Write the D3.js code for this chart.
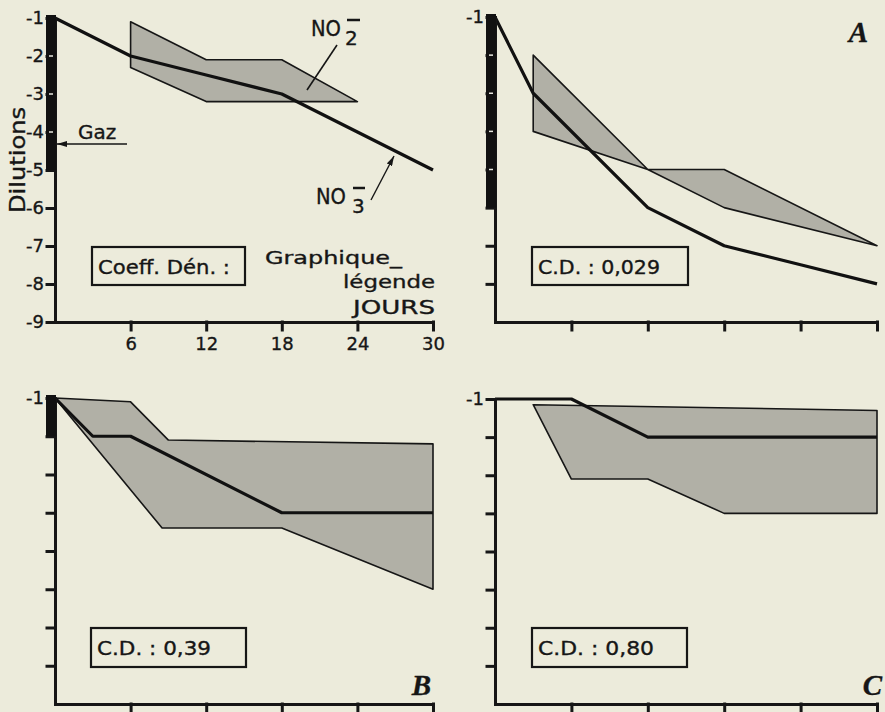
<!DOCTYPE html>
<html>
<head>
<meta charset="utf-8">
<script src="https://cdn.jsdelivr.net/npm/d3@7"></script>
<style>
  body { margin: 0; background: #ecebdb; }
  svg text { font-family: "DejaVu Sans", sans-serif; fill: #161616; stroke: #161616; stroke-width: 0.35; }
</style>
</head>
<body>
<div id="chart"></div>
<script>
// days and dilution ticks
var dayTicks = [6, 12, 18, 24, 30];
var dilutionTicks = [-1, -2, -3, -4, -5, -6, -7, -8];
var legendTicks = [-1, -2, -3, -4, -5, -6, -7, -8, -9];

// legend panel (Graphique-légende)
var legendNO3 = [[0, -1], [6, -2], [12, -2.5], [18, -3], [24, -4], [30, -5]];
var legendNO2Upper = [[6, -1.1], [12, -2.1], [18, -2.1], [24, -3.2]];
var legendNO2Lower = [[6, -2.3], [12, -3.2], [24, -3.2]];
var legendGaz = -5;

// panel A
var aNO3 = [[0, -1], [3, -3], [12, -6], [18, -7], [24, -7.5], [30, -8]];
var aNO2Upper = [[3, -2], [12, -5], [18, -5], [30, -7]];
var aNO2Lower = [[3, -4], [12, -5], [18, -6], [30, -7]];
var aGaz = -6;

// panel B
var bNO3 = [[0, -1], [3, -2], [6, -2], [18, -4], [30, -4]];
var bNO2Upper = [[0, -1], [6, -1.1], [9, -2.1], [30, -2.2]];
var bNO2Lower = [[0, -1], [8.5, -4.4], [18, -4.4], [30, -6]];
var bGaz = -2;

// panel C
var cNO3 = [[0, -1], [6, -1], [12, -2], [30, -2]];
var cNO2Upper = [[3, -1.15], [30, -1.3]];
var cNO2Lower = [[3, -1.15], [6, -3.1], [12, -3.1], [18, -4], [30, -4]];
var cGaz = null;

var panels = [
  { left: 55, right: 433, top: 18, bottom: 322, no3: legendNO3, up: legendNO2Upper, low: legendNO2Lower,
    gaz: legendGaz, ticks: legendTicks, allLabels: true, dayLabels: true,
    box: [92, 247, 153, 38], boxText: "Coeff. Dén. :", boxLen: 132, letter: null },
  { left: 495, right: 877, top: 17, bottom: 322, no3: aNO3, up: aNO2Upper, low: aNO2Lower,
    gaz: aGaz, ticks: dilutionTicks, allLabels: false, dayLabels: false,
    box: [532, 247, 156, 38], boxText: "C.D. : 0,029", boxLen: 122, letter: "A", lx: 868, ly: 42 },
  { left: 55, right: 433, top: 398, bottom: 704, no3: bNO3, up: bNO2Upper, low: bNO2Lower,
    gaz: bGaz, ticks: dilutionTicks, allLabels: false, dayLabels: false,
    box: [91, 628, 155, 39], boxText: "C.D. : 0,39", boxLen: 114, letter: "B", lx: 431, ly: 695 },
  { left: 495, right: 877, top: 399, bottom: 704, no3: cNO3, up: cNO2Upper, low: cNO2Lower,
    gaz: cGaz, ticks: dilutionTicks, allLabels: false, dayLabels: false,
    box: [532, 628, 155, 39], boxText: "C.D. : 0,80", boxLen: 116, letter: "C", lx: 882, ly: 695 }
];

var svg = d3.select("#chart")
  .append("svg")
  .attr("width", 885)
  .attr("height", 712);

var defs = svg.append("defs");

defs.append("marker")
  .attr("id", "arrow")
  .attr("viewBox", "0 0 10 6")
  .attr("refX", 10)
  .attr("refY", 3)
  .attr("markerWidth", 10)
  .attr("markerHeight", 6)
  .attr("markerUnits", "userSpaceOnUse")
  .attr("orient", "auto")
  .append("path")
  .attr("d", "M0,0L10,3L0,6z")
  .attr("fill", "#161616");

panels.forEach(function(p) {
  var x = d3.scaleLinear().domain([0, 30]).range([p.left, p.right]);
  var y = d3.scaleLinear().domain([-1, -9]).range([p.top, p.bottom]);
  var g = svg.append("g");

  // NO2 band
  var band = p.up.concat(p.low.slice().reverse());
  g.append("path")
    .attr("d", d3.line().x(d => x(d[0])).y(d => y(d[1])).curve(d3.curveLinearClosed)(band))
    .attr("fill", "#b1b0a6")
    .attr("stroke", "#161616")
    .attr("stroke-width", 1.6)
    .attr("stroke-linejoin", "round");

  // NO3 line
  g.append("path")
    .attr("d", d3.line().x(d => x(d[0])).y(d => y(d[1]))(p.no3))
    .attr("fill", "none")
    .attr("stroke", "#111")
    .attr("stroke-width", 3.2)
    .attr("stroke-linejoin", "round");

  // axes
  var leftAxis = d3.axisLeft(y)
    .tickValues(p.ticks)
    .tickSize(8)
    .tickSizeOuter(0)
    .tickPadding(3)
    .tickFormat(d => (p.allLabels || d === -1) ? String(d) : "");

  var bottomAxis = d3.axisBottom(x)
    .tickValues(dayTicks)
    .tickSize(8)
    .tickSizeOuter(0)
    .tickPadding(7)
    .tickFormat(d => p.dayLabels ? d : "");

  var ya = g.append("g")
    .attr("transform", `translate(${p.left},0)`)
    .call(leftAxis);

  var xa = g.append("g")
    .attr("transform", `translate(0,${p.bottom})`)
    .call(bottomAxis);

  [ya, xa].forEach(function(a) {
    a.selectAll("path, line").attr("stroke", "#161616").attr("stroke-width", 3).attr("stroke-linecap", "square");
    a.selectAll("text")
      .attr("font-family", "DejaVu Sans, sans-serif")
      .attr("font-size", 18)
      .attr("fill", "#161616");
  });

  // gas bar with white notches
  if (p.gaz !== null) {
    g.append("rect")
      .attr("x", p.left - 9)
      .attr("y", p.top - 3)
      .attr("width", 10)
      .attr("height", y(p.gaz) - p.top + 3)
      .attr("fill", "#111");
    g.selectAll(".notch")
      .data(p.ticks.filter(d => d < -1 && d > p.gaz))
      .enter()
      .append("line")
      .attr("x1", p.left - 6)
      .attr("x2", p.left - 2)
      .attr("y1", d => y(d))
      .attr("y2", d => y(d))
      .attr("stroke", "#e8e8e0")
      .attr("stroke-width", 1.5);
  }

  // coefficient box
  g.append("rect")
    .attr("x", p.box[0])
    .attr("y", p.box[1])
    .attr("width", p.box[2])
    .attr("height", p.box[3])
    .attr("fill", "none")
    .attr("stroke", "#161616")
    .attr("stroke-width", 2.2);

  g.append("text")
    .attr("x", p.box[0] + 6)
    .attr("y", p.box[1] + 27)
    .attr("font-size", 19)
    .attr("textLength", p.boxLen)
    .attr("lengthAdjust", "spacingAndGlyphs")
    .text(p.boxText);

  if (p.letter) {
    g.append("text")
      .attr("x", p.lx)
      .attr("y", p.ly)
      .attr("text-anchor", "end")
      .style("font-family", "Liberation Serif, serif")
      .attr("font-weight", "bold")
      .attr("font-style", "italic")
      .attr("font-size", 29)
      .text(p.letter);
  }
});

// legend-panel annotations
svg.append("text")
  .attr("transform", "translate(25,160) rotate(-90)")
  .attr("text-anchor", "middle")
  .attr("font-size", 21)
  .attr("textLength", 106)
  .attr("lengthAdjust", "spacingAndGlyphs")
  .text("Dilutions");

svg.append("text").attr("x", 78).attr("y", 139).attr("font-size", 20).text("Gaz");
svg.append("line")
  .attr("x1", 127).attr("y1", 144).attr("x2", 57).attr("y2", 144)
  .attr("stroke", "#161616").attr("stroke-width", 1.6)
  .attr("marker-end", "url(#arrow)");

// NO2- label
svg.append("text").attr("x", 311).attr("y", 36).attr("font-size", 22)
  .attr("textLength", 30).attr("lengthAdjust", "spacingAndGlyphs").text("NO");
svg.append("text").attr("x", 345).attr("y", 45).attr("font-size", 20).text("2");
svg.append("line").attr("x1", 347).attr("x2", 360).attr("y1", 20).attr("y2", 20)
  .attr("stroke", "#161616").attr("stroke-width", 2.5);
svg.append("line")
  .attr("x1", 337).attr("y1", 45).attr("x2", 307).attr("y2", 90)
  .attr("stroke", "#161616").attr("stroke-width", 1.6);

// NO3- label
svg.append("text").attr("x", 316).attr("y", 204).attr("font-size", 22)
  .attr("textLength", 30).attr("lengthAdjust", "spacingAndGlyphs").text("NO");
svg.append("text").attr("x", 352).attr("y", 213).attr("font-size", 20).text("3");
svg.append("line").attr("x1", 353).attr("x2", 365).attr("y1", 188).attr("y2", 188)
  .attr("stroke", "#161616").attr("stroke-width", 2.5);
svg.append("line")
  .attr("x1", 371).attr("y1", 200).attr("x2", 394).attr("y2", 156)
  .attr("stroke", "#161616").attr("stroke-width", 1.4)
  .attr("marker-end", "url(#arrow)");

// legend captions
svg.append("text").attr("x", 265).attr("y", 264).attr("font-size", 18)
  .attr("textLength", 137).attr("lengthAdjust", "spacingAndGlyphs").text("Graphique_");
svg.append("text").attr("x", 343).attr("y", 288).attr("font-size", 18)
  .attr("textLength", 92).attr("lengthAdjust", "spacingAndGlyphs").text("légende");
svg.append("text").attr("x", 353).attr("y", 314).attr("font-size", 19)
  .attr("textLength", 82).attr("lengthAdjust", "spacingAndGlyphs").text("JOURS");
</script>
</body>
</html>
